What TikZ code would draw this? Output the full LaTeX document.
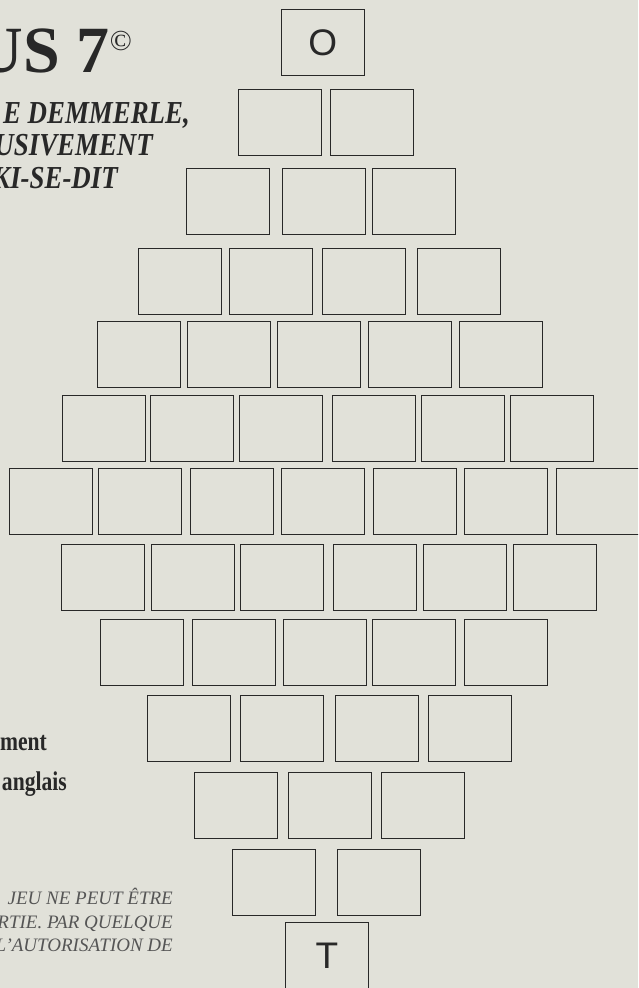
\documentclass[tikz,border=0pt]{standalone}
\usepackage{fontspec}
\usepackage{graphicx}
\setmainfont{Liberation Serif}
\newfontfamily\cellfont{Liberation Sans}
\definecolor{PaperGrey}{RGB}{225,225,217}
\definecolor{InkDark}{RGB}{40,40,40}
\definecolor{InkGrey}{RGB}{85,85,85}

\begin{document}
\begin{tikzpicture}[x=1pt, y=-1pt,
    cell/.style={rectangle, draw=InkDark, line width=1.2pt, minimum width=82.5pt,
                 minimum height=66pt, inner sep=0pt, anchor=north west},
    cellletter/.style={cell, font=\cellfont\fontsize{37}{37}\selectfont, text=InkDark},
    heading/.style={anchor=base east, inner sep=0pt, text=InkDark},
    byline/.style={heading, font=\bfseries\itshape\fontsize{32}{32}\selectfont},
    notice/.style={anchor=base east, inner sep=0pt, text=InkGrey,
                   font=\itshape\fontsize{19}{19}\selectfont}]
  \useasboundingbox (0,0) rectangle (638,988);
  \clip (0,0) rectangle (638,988);
  \fill[PaperGrey] (0,0) rectangle (638,988);

  % left column texts, cut by the page edge
  \node[heading, font=\bfseries\fontsize{66}{66}\selectfont] (title) at (132,72)
    {US 7\raisebox{22pt}{\mdseries\fontsize{29}{29}\selectfont ©}};
  \node[byline] (author) at (190,123) {\scalebox{0.84}[1]{E DEMMERLE,}};
  \node[byline] (excl) at (153,155) {\scalebox{0.84}[1]{USIVEMENT}};
  \node[byline] (motto) at (118,188) {\scalebox{0.84}[1]{KI-SE-DIT}};
  \node[heading, font=\bfseries\fontsize{27}{27}\selectfont] (ement) at (47,750) {\scalebox{0.8}[1]{ement}};
  \node[heading, font=\bfseries\fontsize{27}{27}\selectfont] (anglais) at (67,790) {\scalebox{0.8}[1]{anglais}};
  \node[notice] (rights1) at (173,904) {JEU NE PEUT ÊTRE};
  \node[notice] (rights2) at (173,928) {RTIE. PAR QUELQUE};
  \node[notice] (rights3) at (173,951) {L'AUTORISATION DE};

  % the diamond of cells
  \node[cellletter] (cell-0-1) at (281,9) {O};
  \foreach \r/\ytop/\xlist in {1/89/{238,330}, 2/168/{186,282,372},
      3/248/{138,229,322,417}, 4/321/{97,187,277,368,459},
      5/395/{62,150,239,332,421,510}, 6/468/{9,98,190,281,373,464,556},
      7/544/{61,151,240,333,423,513}, 8/619/{100,192,283,372,464},
      9/695/{147,240,335,428}, 10/772/{194,288,381}, 11/849/{232,337}}
    \foreach \xleft [count=\k] in \xlist
      \node[cell] (cell-\r-\k) at (\xleft,\ytop) {};
  \node[cellletter] (cell-12-1) at (285,922) {T};
\end{tikzpicture}
\end{document}
